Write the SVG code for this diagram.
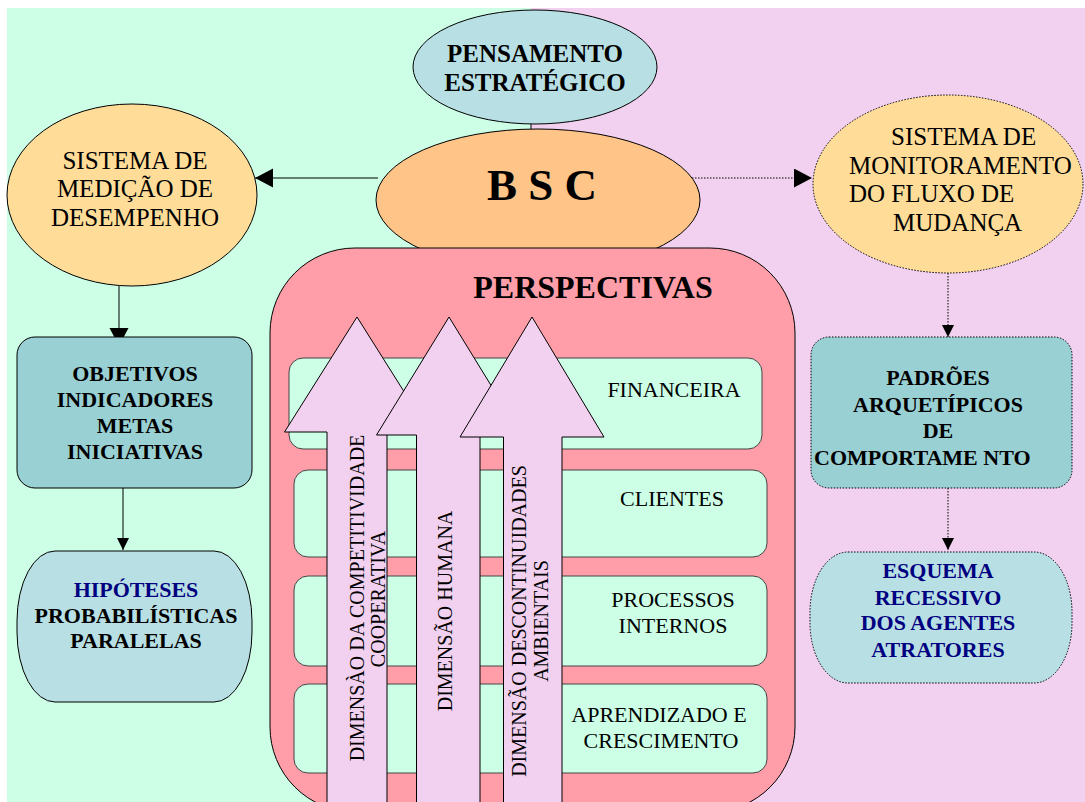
<svg xmlns="http://www.w3.org/2000/svg" width="1085" height="802" viewBox="0 0 1085 802">
  <style>
    text { font-family: "Liberation Serif", "Times New Roman", serif; fill: #000; }
    .b { font-weight: bold; }
    .navy { fill: #000080; }
    .r25 { font-size: 25px; }
    .b22 { font-size: 22px; font-weight: bold; }
    .r22 { font-size: 22px; }
    .dim { font-size: 20px; }
    .mid { text-anchor: middle; }
    .ln { stroke: #000; stroke-width: 1; fill: none; }
    .dot { stroke: #000; stroke-width: 1; fill: none; stroke-dasharray: 1.5 1.5; }
    .row { fill: #CCFFE6; stroke: #444; stroke-width: 1; }
    .arw { fill: #F1D1EF; stroke: #000; stroke-width: 1; }
  </style>
  <defs>
    <marker id="big" markerUnits="userSpaceOnUse" markerWidth="19" markerHeight="20" refX="18" refY="9.5" orient="auto">
      <path d="M0,0 L18,9.5 L0,19 z" fill="#000"/>
    </marker>
    <marker id="small" markerUnits="userSpaceOnUse" markerWidth="13" markerHeight="13" refX="12" refY="6" orient="auto">
      <path d="M0,0 L12,6 L0,12 z" fill="#000"/>
    </marker>
  </defs>

  <rect x="0" y="0" width="1085" height="802" fill="#FFFFFF"/>
  <rect x="7" y="8" width="524" height="794" fill="#CCFFE6"/>
  <rect x="531" y="8" width="554" height="794" fill="#F1D1EF"/>

  <g id="connectors">
    <line class="ln" x1="531" y1="123" x2="531" y2="130"/>
    <line class="ln" x1="378" y1="178" x2="255" y2="178" marker-end="url(#big)"/>
    <line class="dot" x1="686" y1="178" x2="812" y2="178" marker-end="url(#big)"/>
    <line class="ln" x1="119" y1="286" x2="119" y2="346" marker-end="url(#big)"/>
    <line class="ln" x1="123" y1="488" x2="123" y2="550" marker-end="url(#small)"/>
    <line class="dot" x1="948" y1="273" x2="948" y2="337" marker-end="url(#small)"/>
    <line class="dot" x1="948" y1="488" x2="948" y2="550" marker-end="url(#small)"/>
  </g>

  <g id="pensamento">
    <ellipse cx="535" cy="67" rx="122" ry="57" fill="#B8E0E4" stroke="#000" stroke-width="1"/>
    <text class="b mid" font-size="25" x="535" y="62">PENSAMENTO</text>
    <text class="b mid" font-size="25" x="535" y="91">ESTRATÉGICO</text>
  </g>

  <g id="bsc">
    <ellipse cx="538" cy="200" rx="162" ry="71" fill="#FFC488" stroke="#000" stroke-width="1"/>
    <text class="b mid" font-size="45" x="542" y="200">B S C</text>
  </g>

  <g id="medicao">
    <ellipse cx="132" cy="195" rx="125" ry="91" fill="#FFDD99" stroke="#000" stroke-width="1"/>
    <text class="r25 mid" x="135" y="169">SISTEMA DE</text>
    <text class="r25 mid" x="135" y="197">MEDIÇÃO DE</text>
    <text class="r25 mid" x="135" y="226">DESEMPENHO</text>
  </g>

  <g id="monitoramento">
    <ellipse cx="948" cy="184" rx="135" ry="89" fill="#FFDD99" stroke="#000" stroke-width="1" stroke-dasharray="1.5 1.5"/>
    <text class="r25" x="891" y="145">SISTEMA DE</text>
    <text class="r25" x="849" y="174">MONITORAMENTO</text>
    <text class="r25" x="849" y="202">DO FLUXO DE</text>
    <text class="r25" x="893" y="231">MUDANÇA</text>
  </g>

  <g id="objetivos">
    <rect x="17" y="337" width="235" height="151" rx="18" fill="#99D0D4" stroke="#000" stroke-width="1"/>
    <text class="b22 mid" x="135" y="381">OBJETIVOS</text>
    <text class="b22 mid" x="135" y="407">INDICADORES</text>
    <text class="b22 mid" x="135" y="433">METAS</text>
    <text class="b22 mid" x="135" y="459">INICIATIVAS</text>
  </g>

  <g id="hipoteses">
    <rect x="17" y="551" width="235" height="151" rx="38" ry="70" fill="#B8E0E4" stroke="#000" stroke-width="1"/>
    <text class="b22 mid navy" x="136" y="597">HIPÓTESES</text>
    <text class="b22 mid" x="136" y="623">PROBABILÍSTICAS</text>
    <text class="b22 mid" x="136" y="648">PARALELAS</text>
  </g>

  <g id="padroes">
    <rect x="811" y="337" width="261" height="151" rx="18" fill="#99D0D4" stroke="#000" stroke-width="1" stroke-dasharray="1.5 1.5"/>
    <text class="b22 mid" x="938" y="385">PADRÕES</text>
    <text class="b22 mid" x="938" y="412">ARQUETÍPICOS</text>
    <text class="b22 mid" x="938" y="438">DE</text>
    <text class="b22" x="814" y="465">COMPORTAME NTO</text>
  </g>

  <g id="esquema">
    <rect x="810" y="552" width="262" height="131" rx="38" ry="60" fill="#B8E0E4" stroke="#000" stroke-width="1" stroke-dasharray="1.5 1.5"/>
    <text class="b22 mid navy" x="938" y="578">ESQUEMA</text>
    <text class="b22 mid navy" x="938" y="605">RECESSIVO</text>
    <text class="b22 mid navy" x="938" y="630">DOS AGENTES</text>
    <text class="b22 mid navy" x="938" y="657">ATRATORES</text>
  </g>

  <g id="perspectivas">
    <rect x="270" y="248" width="525" height="564" rx="85" fill="#FF9EA8" stroke="#000" stroke-width="1"/>
    <text class="b mid" font-size="32" x="593" y="298">PERSPECTIVAS</text>
  </g>

  <g id="financeira">
    <rect class="row" x="289" y="358" width="473" height="91" rx="14"/>
    <text class="r22 mid" x="674" y="397">FINANCEIRA</text>
  </g>
  <g id="clientes">
    <rect class="row" x="294" y="470" width="473" height="87" rx="14"/>
    <text class="r22 mid" x="672" y="506">CLIENTES</text>
  </g>
  <g id="processos">
    <rect class="row" x="294" y="576" width="473" height="90" rx="14"/>
    <text class="r22 mid" x="673" y="607">PROCESSOS</text>
    <text class="r22 mid" x="673" y="633">INTERNOS</text>
  </g>
  <g id="aprendizado">
    <rect class="row" x="294" y="684" width="473" height="89" rx="14"/>
    <text class="r22 mid" x="659" y="722">APRENDIZADO E</text>
    <text class="r22 mid" x="661" y="748">CRESCIMENTO</text>
  </g>

  <g id="dim-competitividade">
    <polygon class="arw" points="357,317 429.5,432 387,432 387,820 327,820 327,432 284.5,432"/>
    <text class="dim mid" transform="translate(363.5,598) rotate(-90)">DIMENSÀO DA COMPETITIVIDADE</text>
    <text class="dim mid" transform="translate(384.5,599) rotate(-90)">COOPERATIVA</text>
  </g>
  <g id="dim-humana">
    <polygon class="arw" points="449,317 521.5,435 480,435 480,820 416.5,820 416.5,435 376.5,435"/>
    <text class="dim mid" transform="translate(452,611) rotate(-90)">DIMENSÃO HUMANA</text>
  </g>
  <g id="dim-descontinuidades">
    <polygon class="arw" points="532,317 604,437 562,437 562,820 503.5,820 503.5,437 460,437"/>
    <text class="dim mid" transform="translate(525.5,621) rotate(-90)">DIMENSÃO DESCONTINUIDADES</text>
    <text class="dim mid" transform="translate(547.5,621) rotate(-90)">AMBIENTAIS</text>
  </g>
</svg>
